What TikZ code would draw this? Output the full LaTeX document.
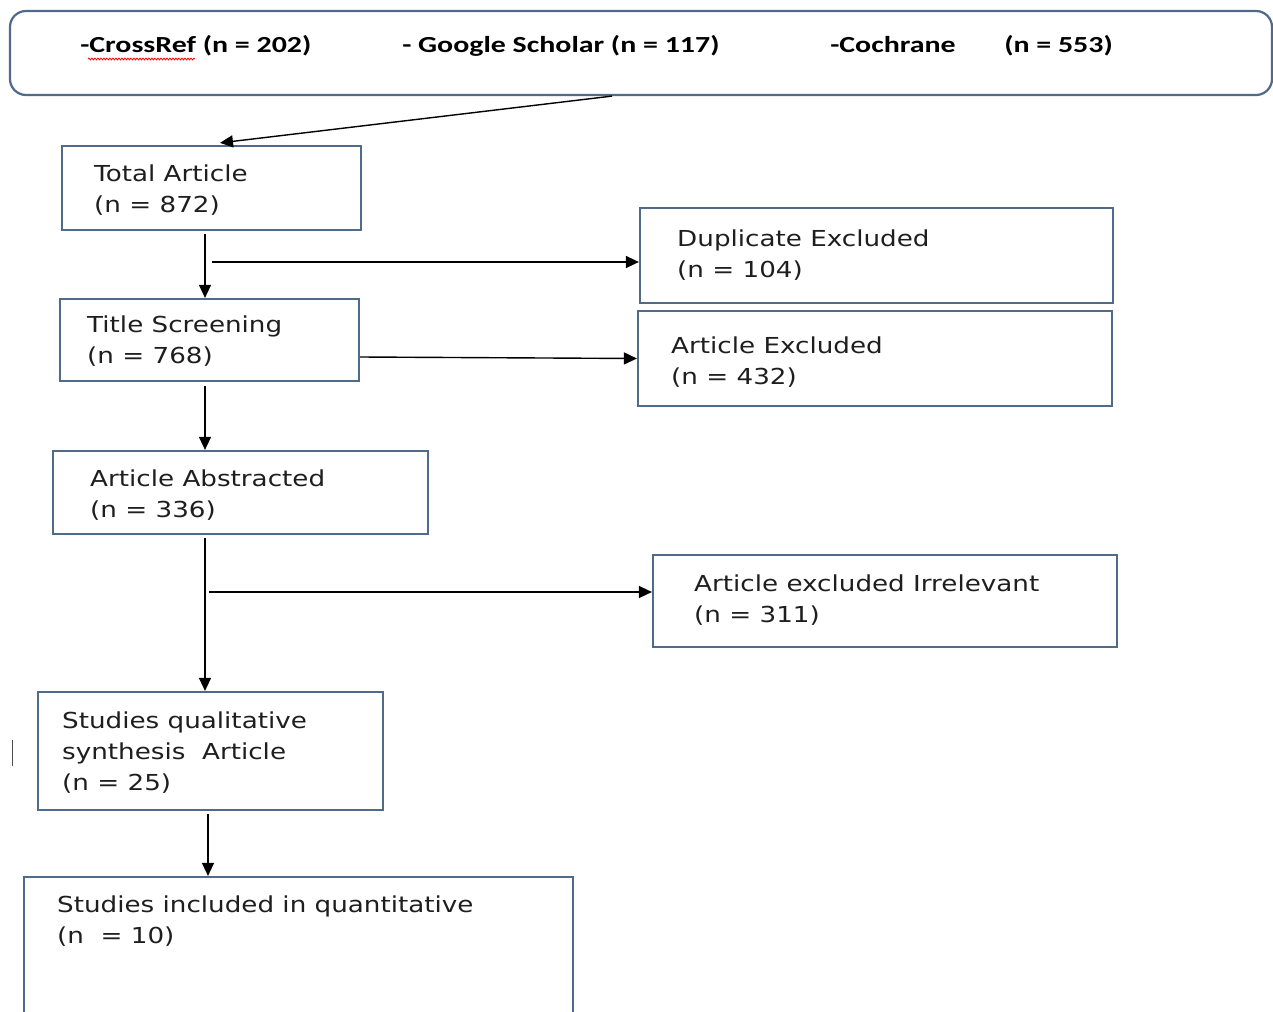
\documentclass[tikz,border=0pt]{standalone}
\usepackage{fontspec}
\setmainfont{DejaVu Sans}
\newfontfamily\topfont{Carlito}
\usetikzlibrary{arrows.meta,decorations.pathmorphing}
\definecolor{boxblue}{RGB}{80,106,138}
\definecolor{txt}{RGB}{30,30,30}
\begin{document}
\begin{tikzpicture}[x=1pt,y=-1pt,
  box/.style={draw=boxblue,line width=2.2pt,rectangle,inner sep=0pt,fill=white},
  lbl/.style={anchor=base west,inner sep=0pt,align=left,text=txt,font=\fontsize{22}{31}\selectfont,xscale=1.19},
  toplbl/.style={anchor=base west,inner sep=0pt,text=black,font=\topfont\bfseries\fontsize{23}{26}\selectfont,xscale=1.3},
  arr/.style={draw=black,line width=1.4pt,-{Triangle[length=13pt,width=12pt]}}]
\clip (0,0) rectangle (1273,1011);
\fill[white] (0,0) rectangle (1273,1011);
% boxes
\node[box,rounded corners=16pt,minimum width=1262,minimum height=84] (src) at (641,53) {};
\node[box,minimum width=299,minimum height=84] (total) at (211.5,188) {};
\node[box,minimum width=473,minimum height=95] (dup) at (876.5,255.5) {};
\node[box,minimum width=299,minimum height=82] (title) at (209.5,340) {};
\node[box,minimum width=474,minimum height=95] (excl) at (875,358.5) {};
\node[box,minimum width=375,minimum height=83] (abs) at (240.5,492.5) {};
\node[box,minimum width=464,minimum height=92] (irr) at (885,601) {};
\node[box,minimum width=345,minimum height=118] (qual) at (210.5,751) {};
\node[box,minimum width=549,minimum height=160] (quant) at (298.5,957) {};
% top texts
\node[toplbl] (t1) at (80,53) {-CrossRef (n = 202)};
\node[toplbl] (t2) at (402,53) {- Google Scholar (n = 117)};
\node[toplbl] (t3) at (830,53) {-Cochrane};
\node[toplbl] (t4) at (1004,53) {(n = 553)};
\draw[red,line width=0.8pt,decorate,decoration={snake,segment length=3pt,amplitude=0.9pt}] (88,59) -- (195,59);
% box texts (anchor = baseline of last line)
\node[lbl] (l1) at (94,212) {Total Article\\(n = 872)};
\node[lbl] (l2) at (677,277) {Duplicate Excluded\\(n = 104)};
\node[lbl] (l3) at (87,363) {Title Screening\\(n = 768)};
\node[lbl] (l4) at (671,384) {Article Excluded\\(n = 432)};
\node[lbl] (l5) at (90,517) {Article Abstracted\\(n = 336)};
\node[lbl] (l6) at (694,622) {Article excluded Irrelevant\\(n = 311)};
\node[lbl] (l7) at (62,790) {Studies qualitative\\synthesis\ \ Article\\(n = 25)};
\node[lbl] (l8) at (57,943) {Studies included in quantitative\\(n\ \ = 10)};
% connectors
\draw[arr] ([xshift=-29pt]src.south) -- ([xshift=8.5pt,yshift=2pt]total.north);
\draw[arr] ([xshift=-6.5pt,yshift=-3pt]total.south) -- ([xshift=-4.5pt]title.north);
\coordinate (j1) at (212,262);
\draw[arr] (j1) -- (j1 -| dup.west);
\draw[arr] ([yshift=-17pt]title.east) -- (excl.west);
\draw[arr] ([xshift=-4.5pt,yshift=-4pt]title.south) -- ([xshift=-35.5pt]abs.north);
\draw[arr] ([xshift=-35.5pt,yshift=-3pt]abs.south) -- ([xshift=-5.5pt]qual.north);
\coordinate (j2) at (209,592);
\draw[arr] (j2) -- (j2 -| irr.west);
\draw[arr] ([xshift=-2.5pt,yshift=-3pt]qual.south) -- ([xshift=-90.5pt]quant.north);
% stray mark
\draw[black!70,line width=1pt] (12,740) -- (12,766);
\end{tikzpicture}
\end{document}
